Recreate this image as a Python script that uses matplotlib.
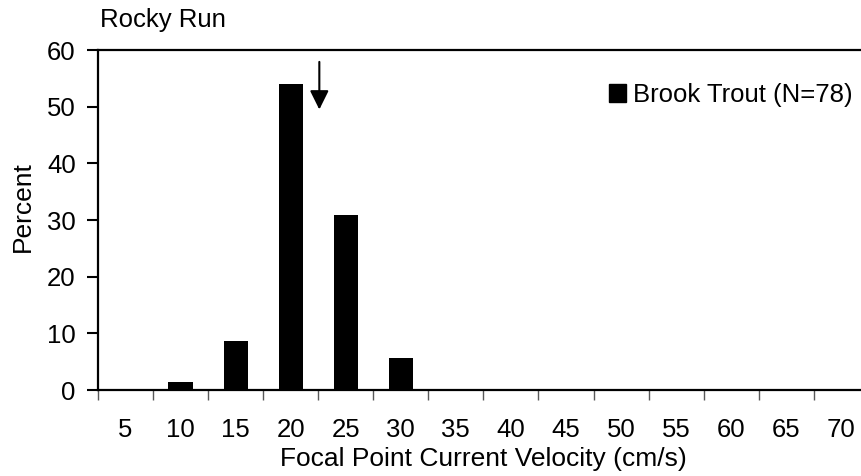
"""Rocky Run brook trout focal point current velocity histogram."""

import matplotlib

matplotlib.use("Agg")

import matplotlib.pyplot as plt
import numpy as np
from matplotlib.patches import Patch

plt.rcParams["font.family"] = ["Liberation Sans", "DejaVu Sans"]
plt.rcParams["font.size"] = 18.5

velocity_bins = [5, 10, 15, 20, 25, 30, 35, 40, 45, 50, 55, 60, 65, 70]
percent = [0, 1.5, 8.6, 54.0, 30.8, 5.7, 0, 0, 0, 0, 0, 0, 0, 0]
mean_velocity = 22.6
arrow_top, arrow_tip = 57.9, 49.5
site = "Rocky Run"
series_label = "Brook Trout (N=78)"


def main() -> None:
    fig = plt.figure(figsize=(8.62, 4.76), dpi=100)
    W, H = 862, 476
    ax = fig.add_axes([98 / W, 86 / H, 770.8 / W, 340 / H])

    x = np.arange(len(velocity_bins))
    ax.bar(x, percent, width=0.44, color="black")

    ax.set_xlim(-0.5, len(velocity_bins) - 0.5)
    ax.set_ylim(0, 60)
    ax.set_yticks(range(0, 61, 10))
    ax.set_xticks(x)
    ax.set_xticklabels([str(v) for v in velocity_bins])
    ax.set_xticks(np.arange(-0.5, len(velocity_bins), 1.0), minor=True)

    ax.tick_params(axis="x", which="major", length=0, pad=20)
    ax.tick_params(axis="x", which="minor", length=7, width=1.0, color="0.35",
                   direction="out")
    ax.tick_params(axis="y", length=8, width=1.5, direction="out", pad=8)

    for side in ("left", "bottom", "top"):
        ax.spines[side].set_linewidth(1.6)
    ax.spines["right"].set_visible(False)

    ax.set_xlabel("Focal Point Current Velocity (cm/s)", labelpad=4, fontsize=19)
    ax.set_ylabel("Percent", labelpad=9, fontsize=19)
    ax.yaxis.label.set_y(0.54)

    # arrow marks the mean velocity
    ax_x = (mean_velocity - velocity_bins[0]) / 5
    ax.annotate("", xy=(ax_x, arrow_tip), xytext=(ax_x, arrow_top),
                arrowprops=dict(arrowstyle="-|>,head_length=1.15,head_width=0.57",
                                mutation_scale=10, color="black", lw=1.5,
                                shrinkA=0, shrinkB=0))

    fig.legend(handles=[Patch(facecolor="black", edgecolor="black")],
               labels=[series_label], loc="center left",
               bbox_to_anchor=(609 / W, 1 - 95 / H), frameon=False,
               borderpad=0, borderaxespad=0, handlelength=0.65,
               handleheight=0.65, handletextpad=0.3)

    fig.text(100 / W, 1 - 20 / H, site, ha="left", va="center")

    fig.savefig("out.png", dpi=100)


if __name__ == "__main__":
    main()
